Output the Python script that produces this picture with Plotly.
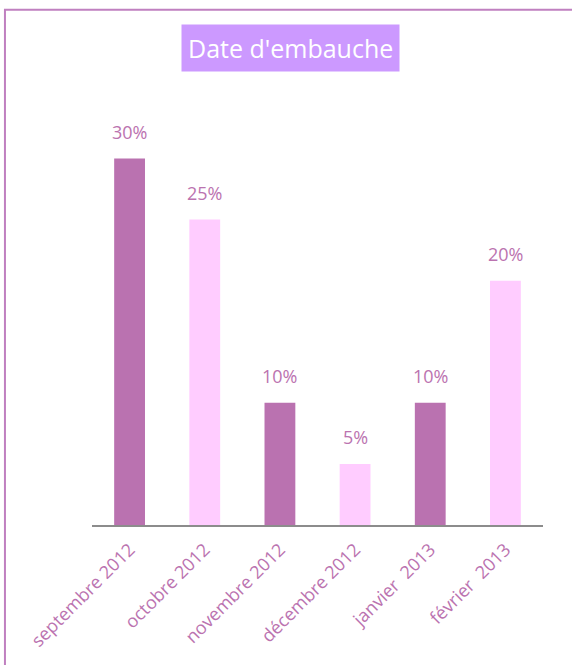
import plotly.graph_objects as go

categories = ["septembre 2012", "octobre 2012", "novembre 2012", "décembre 2012", "janvier  2013", "février  2013"]
values = [30, 25, 10, 5, 10, 20]
labels = ["30%", "25%", "10%", "5%", "10%", "20%"]
colors = ["#BA72B0", "#FFCCFF", "#BA72B0", "#FFCCFF", "#BA72B0", "#FFCCFF"]
title = "Date d'embauche"

txt = "#BB73B0"
font = "Open Sans, Liberation Sans, sans-serif"

fig = go.Figure(go.Bar(
    x=categories, y=values, marker=dict(color=colors, line=dict(width=0)),
))

annotations = [dict(x=c, y=v, text=t, xref="x", yref="y", showarrow=False,
                    yanchor="bottom", yshift=13,
                    font=dict(color=txt, size=18, family=font))
               for c, v, t in zip(categories, values, labels)]
annotations.append(dict(text=title, xref="paper", yref="paper", x=0.441, y=1.109,
                        xanchor="center", yanchor="middle", showarrow=False,
                        bgcolor="#CC99FF", font=dict(color="white", size=25, family=font),
                        borderpad=6))

fig.update_layout(
    width=572, height=665,
    margin=dict(l=92, r=29, t=95, b=140),
    paper_bgcolor="white", plot_bgcolor="white",
    bargap=0.59, showlegend=False,
    xaxis=dict(tickangle=-45, tickfont=dict(color=txt, size=18, family=font),
               tickmode="array", tickvals=categories,
               ticktext=[c.replace("  ", " \u00a0") for c in categories],
               ticklabelstandoff=5,
               showline=True, linecolor="#8C8C8C", linewidth=2, ticks="",
               showgrid=False, automargin=False),
    yaxis=dict(range=[0, 35.2], visible=False, showgrid=False),
    annotations=annotations,
    shapes=[dict(type="rect", xref="paper", yref="paper", x0=-0.193, x1=1.3,
                 y0=-0.6, y1=1.198, line=dict(color="#C080C0", width=2),
                 fillcolor="rgba(0,0,0,0)", layer="below")],
)

fig.write_html("out.html", config={"displayModeBar": False},
               post_script="document.body.style.margin='0';")
